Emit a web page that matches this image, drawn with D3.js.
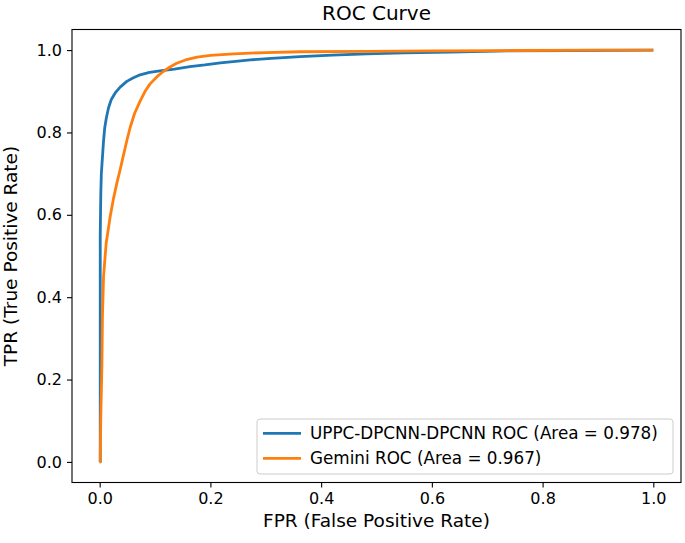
<!DOCTYPE html>
<html>
<head>
<meta charset="utf-8">
<script src="https://cdn.jsdelivr.net/npm/d3@7"></script>
<style>
  body { margin: 0; background: #fff; }
  svg text { font-family: "DejaVu Sans", sans-serif; fill: #000; }
</style>
</head>
<body>
<div id="graph"></div>
<script>
"use strict";

// ROC points
const blueFpr = [0, 0.001, 0.001, 0.001, 0.002, 0.003, 0.005, 0.007, 0.009, 0.012, 0.016, 0.021, 0.028, 0.037, 0.049, 0.06, 0.073, 0.09, 0.112, 0.135, 0.163, 0.19, 0.218, 0.25, 0.272, 0.31, 0.362, 0.42, 0.483, 0.55, 0.633, 0.736, 0.85, 1.0];
const blueTpr = [0, 0.0, 0.3, 0.55, 0.65, 0.70, 0.74, 0.78, 0.81, 0.835, 0.86, 0.88, 0.896, 0.91, 0.924, 0.932, 0.94, 0.946, 0.95, 0.954, 0.96, 0.964, 0.969, 0.973, 0.976, 0.98, 0.984, 0.988, 0.991, 0.993, 0.995, 0.998, 0.999, 1.0];

const orangeFpr = [0, 0.001, 0.002, 0.004, 0.005, 0.007, 0.0117, 0.019, 0.025, 0.031, 0.037, 0.043, 0.049, 0.055, 0.063, 0.073, 0.082, 0.091, 0.104, 0.115, 0.127, 0.139, 0.155, 0.176, 0.2, 0.242, 0.3, 0.362, 0.483, 0.6, 0.75, 0.9, 1.0];
const orangeTpr = [0, 0.0, 0.11, 0.231, 0.353, 0.45, 0.531, 0.596, 0.64, 0.677, 0.71, 0.745, 0.78, 0.812, 0.846, 0.876, 0.90, 0.918, 0.936, 0.948, 0.959, 0.968, 0.976, 0.983, 0.987, 0.991, 0.994, 0.996, 0.997, 0.998, 0.999, 1.0, 1.0];

const seriesNames = ["UPPC-DPCNN-DPCNN ROC (Area = 0.978)", "Gemini ROC (Area = 0.967)"];
const seriesColors = ["#1f77b4", "#ff7f0e"];
const ticks = [0, 0.2, 0.4, 0.6, 0.8, 1.0];

const svgWidth = 685;
const svgHeight = 543;
const margin = { top: 29.5, right: 4, bottom: 60.5, left: 72 };
const width = svgWidth - margin.left - margin.right;
const height = svgHeight - margin.top - margin.bottom;

const svg = d3.select("#graph")
    .append("svg")
    .attr("width", svgWidth)
    .attr("height", svgHeight);

const g = svg.append("g")
    .attr("transform", "translate(" + margin.left + "," + margin.top + ")");

const xScale = d3.scaleLinear().domain([-0.05, 1.05]).range([0, width]);
const yScale = d3.scaleLinear().domain([-0.05, 1.05]).range([height, 0]);

const series = [
    blueFpr.map((f, i) => [f, blueTpr[i]]),
    orangeFpr.map((f, i) => [f, orangeTpr[i]])
];

const line = d3.line()
    .x(d => xScale(d[0]))
    .y(d => yScale(d[1]));

series.forEach((pts, i) => {
    g.append("path")
        .datum(pts)
        .attr("fill", "none")
        .attr("stroke", seriesColors[i])
        .attr("stroke-width", 2.8)
        .attr("stroke-linejoin", "round")
        .attr("d", line);
});

// axes
const xAxis = g.append("g")
    .attr("transform", "translate(0," + height + ")")
    .call(d3.axisBottom(xScale).tickValues(ticks).tickFormat(d3.format(".1f")).tickSize(5).tickPadding(5));
const yAxis = g.append("g")
    .call(d3.axisLeft(yScale).tickValues(ticks).tickFormat(d3.format(".1f")).tickSize(5).tickPadding(5));

[xAxis, yAxis].forEach(a => {
    a.select(".domain").remove();
    a.selectAll("line").attr("stroke", "#000").attr("stroke-width", 1.1);
    a.selectAll("text").style("font-size", "16px").style("font-family", "DejaVu Sans");
});

g.append("rect")
    .attr("width", width)
    .attr("height", height)
    .attr("fill", "none")
    .attr("stroke", "#000")
    .attr("stroke-width", 1.1);

// legend
const legend = g.append("g")
    .attr("transform", "translate(" + (257 - margin.left) + "," + (419 - margin.top) + ")");
legend.append("rect")
    .attr("width", 416)
    .attr("height", 55)
    .attr("rx", 3)
    .attr("fill", "#fff")
    .attr("fill-opacity", 0.8)
    .attr("stroke", "#ccc")
    .attr("stroke-width", 1);
seriesNames.forEach((name, i) => {
    const yy = 14.3 + i * 25;
    legend.append("line")
        .attr("x1", 6).attr("x2", 44)
        .attr("y1", yy).attr("y2", yy)
        .attr("stroke", seriesColors[i])
        .attr("stroke-width", 2.8);
    legend.append("text")
        .attr("x", 53)
        .attr("y", yy)
        .attr("dy", "0.35em")
        .style("font-size", "16.8px")
        .text(name);
});

// title and labels
svg.append("text")
    .attr("x", margin.left + width / 2)
    .attr("y", 20)
    .attr("text-anchor", "middle")
    .style("font-size", "20px")
    .text("ROC Curve");

svg.append("text")
    .attr("x", margin.left + width / 2)
    .attr("y", 527)
    .attr("text-anchor", "middle")
    .style("font-size", "18.5px")
    .text("FPR (False Positive Rate)");

svg.append("text")
    .attr("transform", "translate(17," + (margin.top + height / 2) + ") rotate(-90)")
    .attr("text-anchor", "middle")
    .style("font-size", "18.5px")
    .text("TPR (True Positive Rate)");
</script>
</body>
</html>
